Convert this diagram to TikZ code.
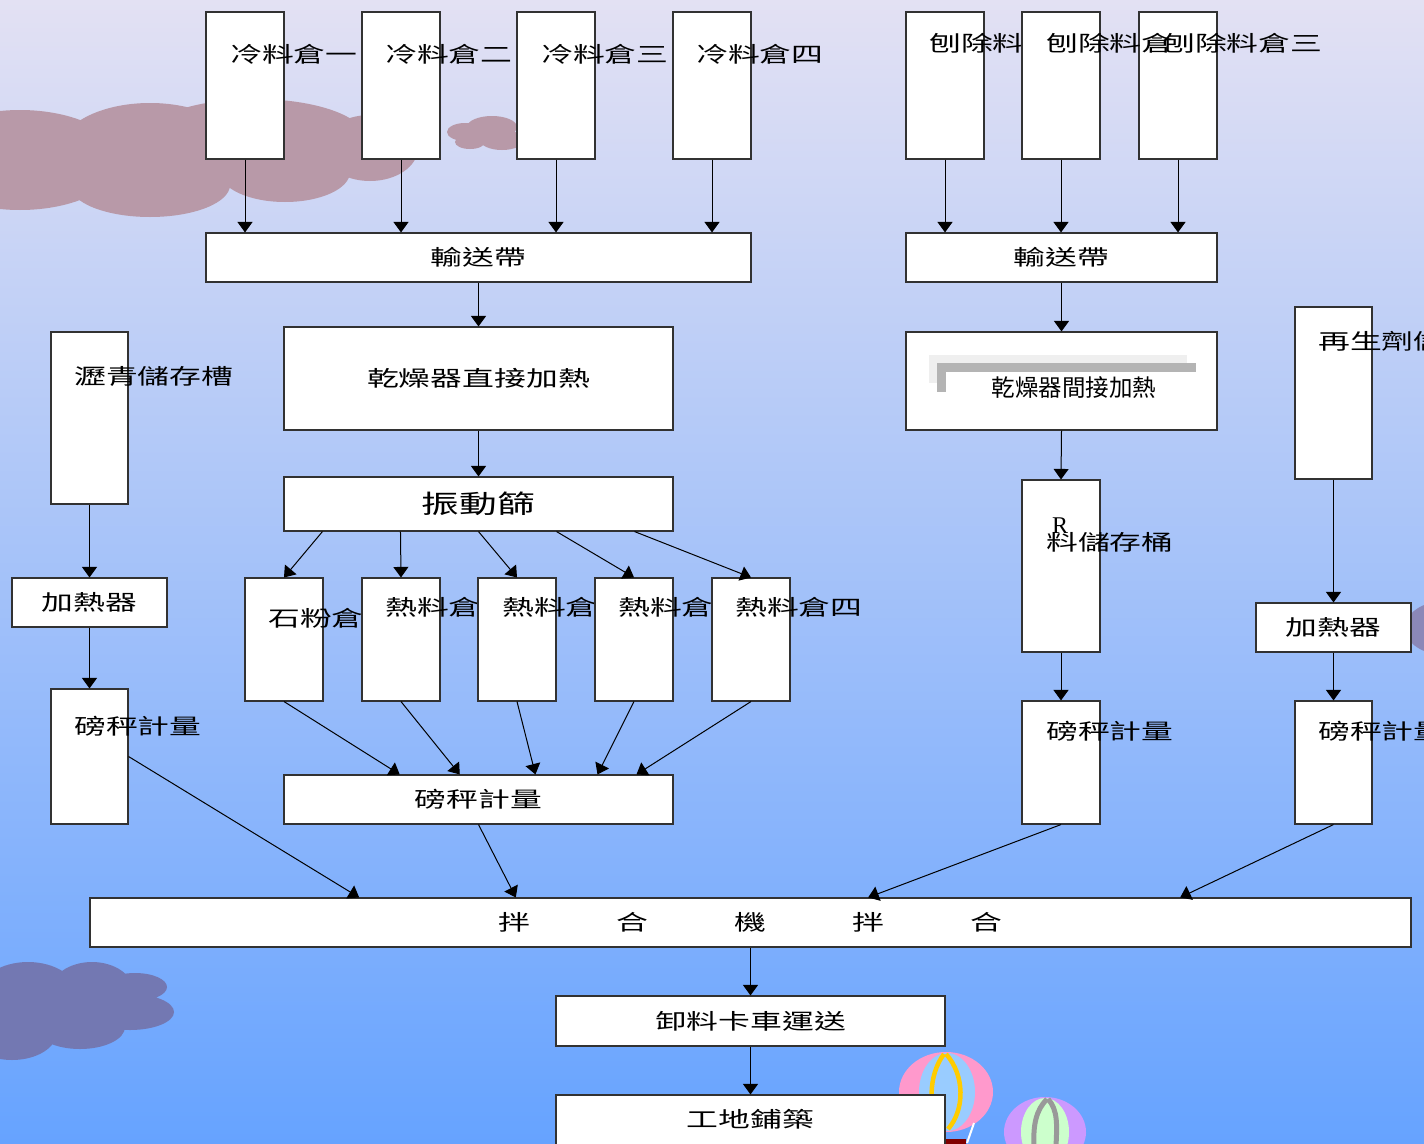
\documentclass[tikz,border=0pt]{standalone}
\usepackage{fontspec}
\newfontfamily\cjk[FakeStretch=1.48]{Noto Sans CJK TC}
\newfontfamily\cjkplain{Noto Sans CJK TC}
\newfontfamily\latinserif{Liberation Serif}
\usetikzlibrary{arrows.meta,calc}

\definecolor{skytop}{RGB}{227,225,243}
\definecolor{skymid}{RGB}{148,192,248}
\definecolor{skybot}{RGB}{102,163,255}
\definecolor{mauve}{RGB}{184,153,168}
\definecolor{duskcloud}{RGB}{115,120,178}
\definecolor{sidecloud}{RGB}{139,136,184}
\definecolor{boxline}{RGB}{50,50,50}
\definecolor{palegray}{RGB}{239,239,239}
\definecolor{midgray}{RGB}{180,180,180}
\definecolor{balpink}{RGB}{255,153,204}
\definecolor{balblue}{RGB}{153,204,255}
\definecolor{balyellow}{RGB}{255,204,0}
\definecolor{balviolet}{RGB}{204,153,255}
\definecolor{balgreen}{RGB}{204,255,204}
\definecolor{balgray}{RGB}{153,153,153}
\definecolor{basket}{RGB}{128,0,0}

\tikzset{
  box/.style={draw=boxline, line width=1.1pt, fill=white, rectangle, inner sep=0pt,
              font=\cjk\fontsize{21.5}{24}\selectfont},
  lbl/.style={font=\cjk\fontsize{21.5}{24}\selectfont, text=black, inner sep=0pt, anchor=base west},
  arr/.style={-{Triangle[width=15pt,length=10.5pt]}, line width=1pt, black},
}

\begin{document}
\begin{tikzpicture}[x=1pt,y=-1pt]
\useasboundingbox (0,0) rectangle (1424,1143);
\clip (0,0) rectangle (1424,1143);

% sky
\shade[top color=skytop, middle color=skymid, bottom color=skybot] (0,0) rectangle (1424,1143);

% clouds
\fill[mauve] (20,160) ellipse [x radius=100, y radius=50]
  (150,150) ellipse [x radius=90, y radius=47]
  (255,138) ellipse [x radius=110, y radius=39]
  (150,185) ellipse [x radius=80, y radius=32]
  (285,172) ellipse [x radius=65, y radius=30]
  (370,148) ellipse [x radius=48, y radius=33];
\fill[mauve] (465,132) ellipse [x radius=18, y radius=9]
  (492,127) ellipse [x radius=25, y radius=11]
  (502,140) ellipse [x radius=22, y radius=10]
  (470,142) ellipse [x radius=15, y radius=7];
\fill[duskcloud] (28,995) ellipse [x radius=50, y radius=33]
  (92,992) ellipse [x radius=42, y radius=30]
  (135,987) ellipse [x radius=32, y radius=14]
  (130,1012) ellipse [x radius=44, y radius=18]
  (80,1027) ellipse [x radius=45, y radius=22]
  (12,1032) ellipse [x radius=45, y radius=28];
\fill[sidecloud] (1445,628) ellipse [x radius=40, y radius=27];

% hot-air balloons
\fill[balpink] (946,1092) ellipse [x radius=47, y radius=40];
\fill[balblue] (947,1092) ellipse [x radius=28, y radius=39];
\draw[balyellow, line width=4.5pt] (944,1054) .. controls (928,1075) and (928,1110) .. (941,1129);
\draw[balyellow, line width=4.5pt] (946,1054) .. controls (965,1075) and (965,1110) .. (948,1129);
\draw[white, line width=2pt] (974,1123) -- (967,1143);
\fill[basket] (940,1139) rectangle (966,1150);
\fill[balviolet] (1045,1132) ellipse [x radius=41, y radius=35];
\fill[balgreen] (1045,1132) ellipse [x radius=24, y radius=34];
\draw[balgray, line width=5pt] (1047,1099) .. controls (1036,1110) and (1033,1125) .. (1034,1146);
\draw[balgray, line width=5pt] (1048,1099) .. controls (1058,1110) and (1057,1125) .. (1056,1146);

% cold aggregate bins and first belt
\node[box, minimum width=78pt, minimum height=147pt] (c1) at (245,85.5) {};
\node[lbl] (c1t) at (230,62) {冷料倉一};
\node[box, minimum width=78pt, minimum height=147pt] (c2) at (401,85.5) {};
\node[lbl] (c2t) at (385,62) {冷料倉二};
\node[box, minimum width=78pt, minimum height=147pt] (c3) at (556,85.5) {};
\node[lbl] (c3t) at (541,62) {冷料倉三};
\node[box, minimum width=78pt, minimum height=147pt] (c4) at (712,85.5) {};
\node[lbl] (c4t) at (696,62) {冷料倉四};
\node[box, minimum width=545pt, minimum height=49pt] (belt1) at (478.5,257.5) {輸送帶};

% direct dryer and screen
\node[box, minimum width=389pt, minimum height=103pt] (dry1) at (478.5,378.5) {乾燥器直接加熱};
\node[box, minimum width=389pt, minimum height=54pt, font=\cjk\fontsize{25.5}{28}\selectfont] (scr) at (478.5,504) {振動篩};

% hot bins
\node[box, minimum width=78pt, minimum height=123pt] (hb0) at (284,639.5) {};
\node[lbl] (hb0t) at (268,626) {石粉倉};
\node[box, minimum width=78pt, minimum height=123pt] (hb1) at (401,639.5) {};
\node[lbl] (hb1t) at (385,615) {熱料倉};
\node[box, minimum width=78pt, minimum height=123pt] (hb2) at (517,639.5) {};
\node[lbl] (hb2t) at (502,615) {熱料倉};
\node[box, minimum width=78pt, minimum height=123pt] (hb3) at (634,639.5) {};
\node[lbl] (hb3t) at (618,615) {熱料倉};
\node[box, minimum width=78pt, minimum height=123pt] (hb4) at (751,639.5) {};
\node[lbl] (hb4t) at (735,615) {熱料倉四};
\node[box, minimum width=389pt, minimum height=49pt] (wt) at (478.5,799.5) {磅秤計量};

% asphalt line
\node[box, minimum width=77pt, minimum height=172pt] (asp) at (89.5,418) {};
\node[lbl] (aspt) at (74,384) {瀝青儲存槽};
\node[box, minimum width=155pt, minimum height=49pt] (heatL) at (89.5,602.5) {加熱器};
\node[box, minimum width=77pt, minimum height=135pt] (wL) at (89.5,756.5) {};
\node[lbl] (wLt) at (74,734) {磅秤計量};

% reclaimed material line
\node[box, minimum width=78pt, minimum height=147pt] (r1) at (945,85.5) {};
\node[lbl] (r1t) at (929,51) {刨除料};
\node[box, minimum width=78pt, minimum height=147pt] (r2) at (1061,85.5) {};
\node[box, minimum width=78pt, minimum height=147pt] (r3) at (1178,85.5) {};
\node[lbl] (r3t) at (1163,51) {刨除料倉三};
\node[lbl] (r2t) at (1046,51) {刨除料倉};
\node[box, minimum width=311pt, minimum height=49pt] (belt2) at (1061.5,257.5) {輸送帶};
\node[box, minimum width=311pt, minimum height=98pt] (dry2) at (1061.5,381) {};
\fill[palegray] (929,355) rectangle (1187,383);
\fill[midgray] (937,363) rectangle (1196,392);
\fill[white] (946,372) rectangle (1205,420);
\node[inner sep=0pt, anchor=base, font=\cjkplain\fontsize{23.5}{26}\selectfont] (dry2t) at (1074,396) {乾燥器間接加熱};
\node[box, minimum width=78pt, minimum height=172pt] (rap) at (1061,566) {};
\node[inner sep=0pt, font=\latinserif\fontsize{24}{26}\selectfont] (rapR) at (1060,526) {R};
\node[lbl] (rapt) at (1046,550) {料儲存桶};
\node[box, minimum width=78pt, minimum height=123pt] (wR) at (1061,762.5) {};
\node[lbl] (wRt) at (1046,739) {磅秤計量};

% rejuvenator line
\node[box, minimum width=77pt, minimum height=172pt] (reg) at (1333.5,393) {};
\node[lbl] (regt) at (1318,349) {再生劑儲存槽};
\node[box, minimum width=155pt, minimum height=49pt] (heatR) at (1333.5,627.5) {加熱器};
\node[box, minimum width=77pt, minimum height=123pt] (wR2) at (1333.5,762.5) {};
\node[lbl] (wR2t) at (1318,739) {磅秤計量};

% mixer and delivery
\node[box, minimum width=1321pt, minimum height=49pt] (mix) at (750.5,922.5)
  {拌\hspace{86pt}合\hspace{86pt}機\hspace{86pt}拌\hspace{86pt}合};
\node[box, minimum width=389pt, minimum height=50pt] (truck) at (750.5,1021) {卸料卡車運送};
\node[box, minimum width=389pt, minimum height=65pt] (site) at (750.5,1127.5) {};
\node[inner sep=0pt, font=\cjk\fontsize{21.5}{24}\selectfont] (sitet) at (750.5,1119) {工地鋪築};

% connectors
\foreach \c in {c1,c2,c3,c4}
  \draw[arr] (\c.south) -- (belt1.north -| \c.south);
\draw[arr] (belt1.south) -- (dry1.north);
\draw[arr] (dry1.south) -- (scr.north);
\foreach \f/\h in {0.1/hb0,0.3/hb1,0.5/hb2,0.7/hb3,0.9/hb4}
  \draw[arr] ($(scr.south west)!\f!(scr.south east)$) -- (\h.north);
\foreach \h/\f in {hb0/0.298,hb1/0.452,hb2/0.646,hb3/0.805,hb4/0.905}
  \draw[arr] (\h.south) -- ($(wt.north west)!\f!(wt.north east)$);
\draw[arr] (asp.south) -- (heatL.north);
\draw[arr] (heatL.south) -- (wL.north);
\draw[arr] (wL.east) -- ($(mix.north west)!0.204!(mix.north east)$);
\draw[arr] (wt.south) -- ($(mix.north west)!0.3225!(mix.north east)$);
\foreach \r in {r1,r2,r3}
  \draw[arr] (\r.south) -- (belt2.north -| \r.south);
\draw[arr] (belt2.south) -- (dry2.north);
\draw[arr] (dry2.south) -- (rap.north);
\draw[arr] (rap.south) -- (wR.north);
\draw[arr] (wR.south) -- ($(mix.north west)!0.589!(mix.north east)$);
\draw[arr] (reg.south) -- (heatR.north);
\draw[arr] (heatR.south) -- (wR2.north);
\draw[arr] (wR2.south) -- ($(mix.north west)!0.825!(mix.north east)$);
\draw[arr] (mix.south) -- (truck.north);
\draw[arr] (truck.south) -- (site.north);
\end{tikzpicture}
\end{document}
